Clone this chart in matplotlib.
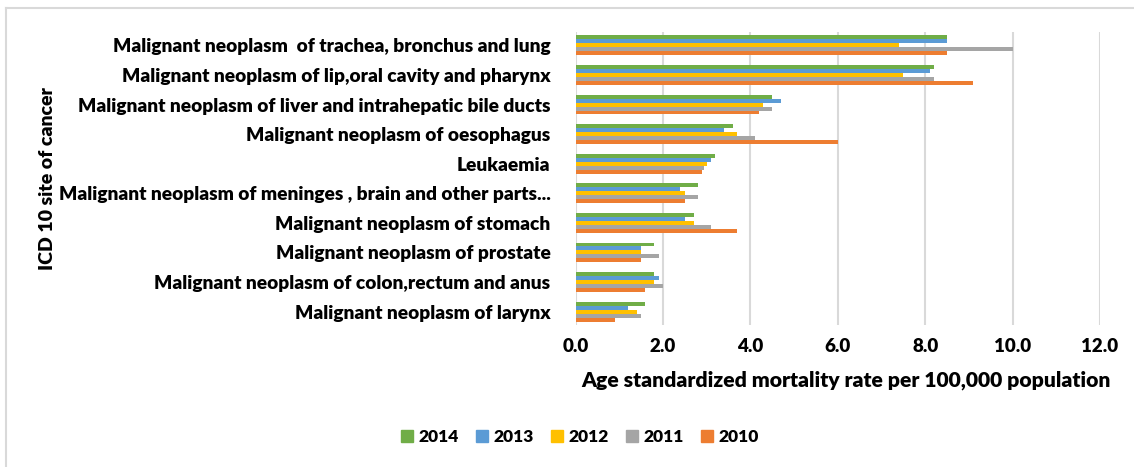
import matplotlib
matplotlib.use("Agg")
import matplotlib.pyplot as plt
import numpy as np
from matplotlib.lines import Line2D

plt.rcParams["font.family"] = ["Lato", "DejaVu Sans"]
BOLD = "heavy"

# categories listed top to bottom as in the chart
categories = [
    "Malignant neoplasm  of trachea, bronchus and lung",
    "Malignant neoplasm of lip,oral cavity and pharynx",
    "Malignant neoplasm of liver and intrahepatic bile ducts",
    "Malignant neoplasm of oesophagus",
    "Leukaemia",
    "Malignant neoplasm of meninges , brain and other parts...",
    "Malignant neoplasm of stomach",
    "Malignant neoplasm of prostate",
    "Malignant neoplasm of colon,rectum and anus",
    "Malignant neoplasm of larynx",
]
years = ["2014", "2013", "2012", "2011", "2010"]
rate_2014 = [8.5, 8.2, 4.5, 3.6, 3.2, 2.8, 2.7, 1.8, 1.8, 1.6]
rate_2013 = [8.5, 8.1, 4.7, 3.4, 3.1, 2.4, 2.5, 1.5, 1.9, 1.2]
rate_2012 = [7.4, 7.5, 4.3, 3.7, 3.0, 2.5, 2.7, 1.5, 1.8, 1.4]
rate_2011 = [10.0, 8.2, 4.5, 4.1, 2.95, 2.8, 3.1, 1.9, 2.0, 1.5]
rate_2010 = [8.5, 9.1, 4.2, 6.0, 2.9, 2.5, 3.7, 1.5, 1.6, 0.9]
series = [rate_2014, rate_2013, rate_2012, rate_2011, rate_2010]
colors = ["#70AD47", "#5B9BD5", "#FFC000", "#A5A5A5", "#ED7D31"]
x_ticks = [0, 2, 4, 6, 8, 10, 12]

W, H = 1134, 467
fig = plt.figure(figsize=(W / 100, H / 100), dpi=100)
ax = fig.add_axes([575.5 / W, 1 - 325 / H, (1100 - 575.5) / W, (325 - 32) / H])

n = len(categories)
pos = np.arange(n)[::-1]
bar_h = 0.135
for k, (vals, c) in enumerate(zip(series, colors)):
    offset = (2 - k) * bar_h
    ax.barh(pos + offset, vals, height=bar_h, color=c, label=years[k], zorder=3)

ax.set_xlim(0, 12)
ax.set_ylim(-0.45, 9.45)
ax.set_xticks(x_ticks)
ax.set_xticklabels([f"{t:.1f}" for t in x_ticks], fontsize=13.5, fontweight=BOLD)
ax.set_yticks(pos)
ax.set_yticklabels(categories, fontsize=13.8, fontweight=BOLD)
ax.tick_params(axis="y", length=0, pad=18)
ax.tick_params(axis="x", length=0, pad=9)
ax.grid(axis="x", color="#d9d9d9", linewidth=1.5, zorder=0)
for s in ax.spines.values():
    s.set_visible(False)

ax.set_xlabel("Age standardized mortality rate per 100,000 population",
              fontsize=15.2, fontweight=BOLD)
ax.xaxis.set_label_coords(0.516, -0.155)
fig.text(48 / W, 1 - 179 / H, "ICD 10 site of cancer", rotation=90,
         ha="center", va="center", fontsize=14, fontweight=BOLD)

handles = [Line2D([], [], marker="s", linestyle="none", markersize=9,
                  markerfacecolor=c, markeredgecolor=c) for c in colors]
fig.legend(handles, years, loc="center", bbox_to_anchor=(578 / W, 1 - 437 / H),
           ncol=5, frameon=False, handletextpad=0.05, handlelength=1.2,
           columnspacing=0.75, prop={"weight": BOLD, "size": 12.5})

# outer chart border (only top and left visible in the crop)
fig.add_artist(Line2D([6 / W, 1], [1 - 8 / H, 1 - 8 / H], color="#d9d9d9",
                      linewidth=1.5, transform=fig.transFigure))
fig.add_artist(Line2D([6 / W, 6 / W], [0, 1 - 8 / H], color="#d9d9d9",
                      linewidth=1.5, transform=fig.transFigure))

fig.savefig("out.png", dpi=100, facecolor="white")
